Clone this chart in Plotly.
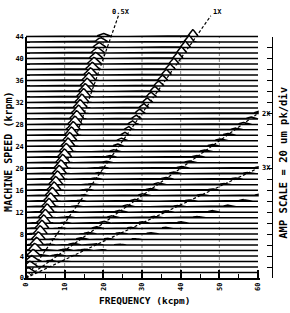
import numpy as np
import plotly.graph_objects as go

# ---------------- data ----------------
speeds = list(range(1, 45))                     # krpm, one spectrum per speed
freq_max = 60                                   # kcpm
orders = [0.45, 0.98, 2.0, 3.0, 4.0]            # order of each spectral component
# peak amplitudes in axis units (1 unit = 10 um pk, i.e. half a division)
amp_sub = [0.8, 1.0, 1.1, 1.2, 1.3, 1.4, 1.4, 1.5, 1.5, 1.5,
           1.5, 1.5, 1.5, 1.5, 1.5, 1.5, 1.5, 1.5, 1.5, 1.5,
           1.5, 1.5, 1.5, 1.5, 1.5, 1.5, 1.5, 1.5, 1.5, 1.5,
           1.5, 1.5, 1.5, 1.4, 1.4, 1.4, 1.3, 1.3, 1.2, 1.1,
           1.0, 0.9, 0.8, 0.6]
amp_1x = [0.1, 0.15, 0.2, 0.2, 0.2, 0.2, 0.2, 0.2, 0.2, 0.2,
          0.2, 0.2, 0.2, 0.2, 0.2, 0.2, 0.2, 0.25, 0.25, 0.25,
          0.3, 0.35, 0.4, 0.45, 0.5, 0.55, 0.6, 0.65, 0.7, 0.75,
          0.8, 0.8, 0.85, 0.9, 0.9, 0.95, 1.0, 1.0, 1.05, 1.1,
          1.1, 1.15, 1.2, 1.25]
amp_2x = [0.1, 0.15, 0.2, 0.3, 0.3, 0.35, 0.35, 0.35, 0.35, 0.35,
          0.35, 0.35, 0.35, 0.35, 0.35, 0.35, 0.35, 0.35, 0.35, 0.35,
          0.35, 0.35, 0.35, 0.35, 0.35, 0.35, 0.35, 0.35, 0.35, 0.35,
          0.0, 0.0, 0.0, 0.0, 0.0, 0.0, 0.0, 0.0, 0.0, 0.0,
          0.0, 0.0, 0.0, 0.0]
amp_3x = [0.0, 0.1, 0.15, 0.2, 0.25, 0.25, 0.25, 0.25, 0.25, 0.25,
          0.25, 0.25, 0.25, 0.25, 0.25, 0.25, 0.25, 0.25, 0.25, 0.25,
          0.0, 0.0, 0.0, 0.0, 0.0, 0.0, 0.0, 0.0, 0.0, 0.0,
          0.0, 0.0, 0.0, 0.0, 0.0, 0.0, 0.0, 0.0, 0.0, 0.0,
          0.0, 0.0, 0.0, 0.0]
amp_4x = [0.0, 0.0, 0.0, 0.0, 0.15, 0.2, 0.2, 0.25, 0.25, 0.25,
          0.25, 0.3, 0.3, 0.3, 0.25, 0.0, 0.0, 0.0, 0.0, 0.0,
          0.0, 0.0, 0.0, 0.0, 0.0, 0.0, 0.0, 0.0, 0.0, 0.0,
          0.0, 0.0, 0.0, 0.0, 0.0, 0.0, 0.0, 0.0, 0.0, 0.0,
          0.0, 0.0, 0.0, 0.0]
line_labels = ["0.5X", "1X", "2X", "3X"]
line_ratios = [0.5, 1.0, 2.0, 3.0]
line_top = 47.8                                  # krpm where order lines stop
speed_ticks = list(range(0, 45, 4))
freq_ticks = list(range(0, 61, 10))
amp_ticks = list(range(0, 45, 2))

# ---------------- figure ----------------
FONT = "DejaVu Sans Mono"
W, H = 290, 313
ML, MR, MT, MB = 24, 18, 5, 35
f = np.linspace(0, freq_max, 1201)
peak_widths = [0.8, 0.6, 0.7, 0.7, 0.7]

fig = go.Figure()

# dotted vertical grid
for fv in freq_ticks[1:-1]:
    fig.add_trace(go.Scatter(x=[fv, fv], y=[0, speeds[-1]], mode="lines",
                             line=dict(color="#555", width=0.7, dash="dot"),
                             hoverinfo="skip", showlegend=False))

# order lines
for lab, r in zip(line_labels, line_ratios):
    s_end = min(line_top, (freq_max - 0.4) / r)
    fig.add_trace(go.Scatter(x=[0, r * s_end], y=[0, s_end], mode="lines",
                             line=dict(color="black", width=1.2, dash="3px,2px"),
                             hoverinfo="skip", showlegend=False))

# spectra, back to front (hidden lines by white fill)
amps = [amp_sub, amp_1x, amp_2x, amp_3x, amp_4x]
for i in range(len(speeds) - 1, -1, -1):
    s = speeds[i]
    y = np.full_like(f, float(s))
    for order, a, w in zip(orders, amps, peak_widths):
        if a[i] > 0:
            y = y + a[i] * np.exp(-0.5 * ((f - order * s) / w) ** 2)
    xs = np.concatenate([f, f[::-1]])
    ys = np.concatenate([y, np.full_like(f, float(s))])
    fig.add_trace(go.Scatter(x=xs, y=ys, mode="lines", fill="toself",
                             fillcolor="white",
                             line=dict(color="black", width=1.5),
                             hoverinfo="skip", showlegend=False))

# dummy traces for the free axes
fig.add_trace(go.Scatter(x=[None], y=[None], yaxis="y2", showlegend=False))
fig.add_trace(go.Scatter(x=[None], y=[None], yaxis="y3", showlegend=False))

plot_w = W - ML - MR
ytop = 49.03
ax_dom = speeds[-1] / ytop

fig.update_layout(
    width=W, height=H,
    margin=dict(l=ML, r=MR, t=MT, b=MB),
    paper_bgcolor="white", plot_bgcolor="rgba(0,0,0,0)",
    font=dict(family=FONT, size=7, color="black", weight="bold"),
    showlegend=False,
    xaxis=dict(domain=[0, 0.95], range=[-0.517, 60.41], showgrid=False,
               zeroline=False, showline=True, linecolor="black", linewidth=1.5,
               ticks="inside", ticklen=8, tickwidth=1.5, tickcolor="black",
               tickvals=freq_ticks, tickangle=-90,
               tickfont=dict(family=FONT, size=7, weight="bold"),
               minor=dict(tickvals=[5, 15, 25, 35, 45, 55], ticks="inside",
                          ticklen=4, tickwidth=1.2, tickcolor="black")),
    yaxis=dict(domain=[0, 1], range=[0, ytop], showgrid=False, zeroline=False,
               showline=False, showticklabels=False, ticks=""),
    yaxis2=dict(domain=[0, ax_dom], range=[0, speeds[-1]], anchor="free",
                position=1.0, side="right", showgrid=False, zeroline=False,
                showline=True, linecolor="black", linewidth=1.3,
                ticks="inside", ticklen=5, tickwidth=1, tickcolor="black",
                tickvals=amp_ticks, showticklabels=False),
    yaxis3=dict(domain=[0, ax_dom], range=[0, speeds[-1]], anchor="free",
                position=(26 - ML) / plot_w, side="left", showgrid=False,
                zeroline=False, showline=True, linecolor="black", linewidth=1.5,
                ticks="inside", ticklen=5, tickwidth=1.2, tickcolor="black",
                tickvals=speed_ticks,
                tickfont=dict(family=FONT, size=7, weight="bold"),
                minor=dict(tickvals=speeds, ticks="inside", ticklen=3,
                           tickwidth=1, tickcolor="black")),
)

def px_to_paper_x(px):
    return (px - ML) / plot_w

def px_to_paper_y(py):
    return (H - MB - py) / (H - MT - MB)

ann = []
ann.append(dict(text="MACHINE SPEED (krpm)", x=px_to_paper_x(9), y=px_to_paper_y(150),
                textangle=-90, font=dict(size=10)))
ann.append(dict(text="FREQUENCY (kcpm)", x=px_to_paper_x(145), y=px_to_paper_y(301),
                font=dict(size=9.5)))
ann.append(dict(text="AMP SCALE = 20 um pk/div", x=px_to_paper_x(283),
                y=px_to_paper_y(161), textangle=-90, font=dict(size=10.5)))
# order line labels
ann.append(dict(text="0.5X", x=px_to_paper_x(121), y=px_to_paper_y(8), font=dict(size=7)))
ann.append(dict(text="1X", x=px_to_paper_x(217), y=px_to_paper_y(8), font=dict(size=7)))
ann.append(dict(text="2X", x=px_to_paper_x(260), y=px_to_paper_y(112), xanchor="left",
                font=dict(size=7)))
ann.append(dict(text="3X", x=px_to_paper_x(260), y=px_to_paper_y(166), xanchor="left",
                font=dict(size=7)))
for a in ann:
    a.update(xref="paper", yref="paper", showarrow=False)
    a.setdefault("xanchor", "center")
    a["yanchor"] = "middle"
    a["font"] = dict(family=FONT, color="black", weight="bold", **a["font"])
fig.update_layout(annotations=ann)

fig.write_html("out.html")
